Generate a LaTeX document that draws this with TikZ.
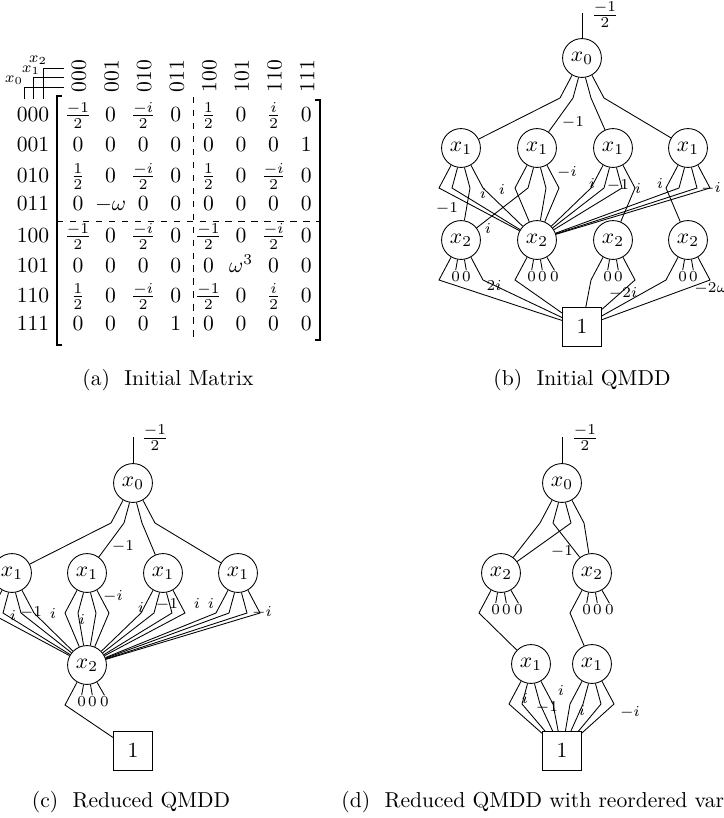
\documentclass[tikz,border=0pt]{standalone}
\usetikzlibrary{calc}
\newcommand\eA[2]{\draw (#1.-120) -- ($(#1)+(-22,40)$) -- (#2);}
\newcommand\eB[2]{\draw (#1.-100) -- ($(#1)+(-9,40)$) -- (#2);}
\newcommand\eC[2]{\draw (#1.-80) -- ($(#1)+(9,40)$) -- (#2);}
\newcommand\eD[2]{\draw (#1.-60) -- ($(#1)+(22,40)$) -- (#2);}
\newcommand\zB[1]{\draw (#1.-100) -- ++(-100:5pt) coordinate (#1zb) node[zl] (#1zbl) {$0$};}
\newcommand\zC[1]{\draw (#1.-80) -- ++(-80:5pt) coordinate (#1zc) node[zl] (#1zcl) {$0$};}
\newcommand\zD[1]{\draw (#1.-60) -- ++(-60:7pt) coordinate (#1zd) node[zl] (#1zdl) {$0$};}
\newcommand\mrow[4]{%
  \node[me] (rl#1) at (33,#2) {#3};
  \foreach \v [count=\c] in {#4} {\node[me] (m#1-\c) at ({78+32.6*(\c-1)},#2) {$\v$};}}
\begin{document}
\begin{tikzpicture}[x=0.4630pt,y=-0.4630pt,
  qn/.style={circle,draw,minimum size=18pt,inner sep=0pt},
  tn/.style={rectangle,draw,minimum size=18pt,inner sep=0pt},
  el/.style={font=\scriptsize,inner sep=0pt},
  wl/.style={inner sep=0pt},
  zl/.style={font=\scriptsize,inner sep=0.5pt,anchor=north},
  me/.style={anchor=base,inner sep=0pt},
  captxt/.style={anchor=base,inner sep=0pt},
  brk/.style={line width=0.5pt}]
\useasboundingbox (0,0) rectangle (723,818);

% ---------------- (a) matrix ----------------
\draw (43,99) -- (43,68) -- (64,68);
\draw (33,99) -- (33,77) -- (64,77);
\draw (24,99) -- (24,87) -- (64,87);
\node[font=\scriptsize,inner sep=0pt] (vx2) at (38,60) {$x_2$};
\node[font=\scriptsize,inner sep=0pt] (vx1) at (31,70) {$x_1$};
\node[font=\scriptsize,inner sep=0pt] (vx0) at (14,80) {$x_0$};
\foreach \h [count=\c] in {000,001,010,011,100,101,110,111}
  {\node[rotate=90,inner sep=0pt] (h\c) at ({79+32.6*(\c-1)},76) {\h};}
\mrow{1}{121}{000}{{\frac{-1}{2}},0,{\frac{-i}{2}},0,{\frac{1}{2}},0,{\frac{i}{2}},0}
\mrow{2}{151}{001}{0,0,0,0,0,0,0,1}
\mrow{3}{182}{010}{{\frac{1}{2}},0,{\frac{-i}{2}},0,{\frac{1}{2}},0,{\frac{-i}{2}},0}
\mrow{4}{210}{011}{0,-\omega,0,0,0,0,0,0}
\mrow{5}{242}{100}{{\frac{-1}{2}},0,{\frac{-i}{2}},0,{\frac{-1}{2}},0,{\frac{-i}{2}},0}
\mrow{6}{272}{101}{0,0,0,0,0,\omega^3,0,0}
\mrow{7}{302}{110}{{\frac{1}{2}},0,{\frac{-i}{2}},0,{\frac{-1}{2}},0,{\frac{i}{2}},0}
\mrow{8}{330}{111}{0,0,0,1,0,0,0,0}
\draw[brk] (62,96) -- (57,96) -- (57,345) -- (62,345);
\draw[brk] (315,100) -- (320,100) -- (320,340) -- (315,340);
\draw[dashed] (193,97) -- (193,342);
\draw[dashed] (57,221) -- (320,221);
\node[captxt] (capa) at (168,385) {(a)\ \ Initial Matrix};

% ---------------- (b) initial QMDD ----------------
\node[qn] (b0) at (582,58) {$x_0$};
\node[qn] (b11) at (461,148) {$x_1$};
\node[qn] (b12) at (537,148) {$x_1$};
\node[qn] (b13) at (613,148) {$x_1$};
\node[qn] (b14) at (688,148) {$x_1$};
\node[qn] (b21) at (461,240) {$x_2$};
\node[qn] (b22) at (537,240) {$x_2$};
\node[qn] (b23) at (613,240) {$x_2$};
\node[qn] (b24) at (688,240) {$x_2$};
\node[tn] (bt) at (582,327) {$1$};
\coordinate (btop) at (582,13);
\draw (b0) -- (btop);
\node[wl] (bw) at (605,15) {$\frac{-1}{2}$};
\eA{b0}{b11}\eB{b0}{b12}\eC{b0}{b13}\eD{b0}{b14}
\eA{b11}{b22}\eB{b11}{b22}\eC{b11}{b21}\eD{b11}{b22}
\eA{b12}{b22}\eB{b12}{b21}\eC{b12}{b22}\eD{b12}{b22}
\eA{b13}{b22}\eB{b13}{b22}\eC{b13}{b22}\eD{b13}{b23}
\eA{b14}{b24}\eB{b14}{b22}\eC{b14}{b22}\eD{b14}{b22}
\eA{b21}{bt}\zB{b21}\zC{b21}\eD{b21}{bt}
\eA{b22}{bt}\zB{b22}\zC{b22}\zD{b22}
\eA{b23}{bt}\zB{b23}\zC{b23}\eD{b23}{bt}
\eA{b24}{bt}\zB{b24}\zC{b24}\eD{b24}{bt}
\node[el] (bl1) at (573,123) {$-1$};
\node[el] (bl2) at (483,193) {$i$};
\node[el] (bl3) at (447,209) {$-1$};
\node[el] (bl4) at (502,189) {$i$};
\node[el] (bl5) at (488,228) {$i$};
\node[el] (bl6) at (567,172) {$-i$};
\node[el] (bl7) at (592,183) {$i$};
\node[el] (bl8) at (618,186) {$-1$};
\node[el] (bl9) at (638,188) {$i$};
\node[el] (bl10) at (660,183) {$i$};
\node[el] (bl11) at (711,188) {$-i$};
\node[el] (bl12) at (494,285) {$2i$};
\node[el] (bl13) at (623,293) {$-2i$};
\node[el,anchor=west] (bl14) at (694,289) {$-2\omega$};
\node[captxt] (capb) at (582,385) {(b)\ \ Initial QMDD};

% ---------------- (c) reduced QMDD ----------------
\node[qn] (c0) at (133,483) {$x_0$};
\node[qn] (c11) at (12,573) {$x_1$};
\node[qn] (c12) at (87,573) {$x_1$};
\node[qn] (c13) at (163,573) {$x_1$};
\node[qn] (c14) at (238,573) {$x_1$};
\node[qn] (c2) at (87,665) {$x_2$};
\node[tn] (ct) at (133,751) {$1$};
\coordinate (ctop) at (133,437);
\draw (c0) -- (ctop);
\node[wl] (cw) at (155,438) {$\frac{-1}{2}$};
\eA{c0}{c11}\eB{c0}{c12}\eC{c0}{c13}\eD{c0}{c14}
\eA{c11}{c2}\eB{c11}{c2}\eC{c11}{c2}\eD{c11}{c2}
\eA{c12}{c2}\eB{c12}{c2}\eC{c12}{c2}\eD{c12}{c2}
\eA{c13}{c2}\eB{c13}{c2}\eC{c13}{c2}\eD{c13}{c2}
\eA{c14}{c2}\eB{c14}{c2}\eC{c14}{c2}\eD{c14}{c2}
\eA{c2}{ct}\zB{c2}\zC{c2}\zD{c2}
\node[el] (cl1) at (123,547) {$-1$};
\node[el] (cl2) at (13,615) {$i$};
\node[el] (cl3) at (31,613) {$-1$};
\node[el] (cl4) at (53,613) {$i$};
\node[el] (cl5) at (82,619) {$i$};
\node[el] (cl6) at (113,596) {$-i$};
\node[el] (cl7) at (141,607) {$i$};
\node[el] (cl8) at (167,605) {$-1$};
\node[el] (cl9) at (197,603) {$i$};
\node[el] (cl10) at (211,603) {$i$};
\node[el] (cl11) at (262,612) {$-i$};
\node[captxt] (capc) at (131,807) {(c)\ \ Reduced QMDD};

% ---------------- (d) reordered ----------------
\node[qn] (d0) at (562,483) {$x_0$};
\node[qn] (d21) at (501,573) {$x_2$};
\node[qn] (d22) at (592,573) {$x_2$};
\node[qn] (d11) at (531,664) {$x_1$};
\node[qn] (d12) at (592,664) {$x_1$};
\node[tn] (dt) at (562,751) {$1$};
\coordinate (dtop) at (562,437);
\draw (d0) -- (dtop);
\node[wl] (dw) at (585,438) {$\frac{-1}{2}$};
\eA{d0}{d21}\eB{d0}{d22}\eC{d0}{d21}\eD{d0}{d22}
\eA{d21}{d11}\zB{d21}\zC{d21}\zD{d21}
\eA{d22}{d12}\zB{d22}\zC{d22}\zD{d22}
\eA{d11}{dt}\eB{d11}{dt}\eC{d11}{dt}\eD{d11}{dt}
\eA{d12}{dt}\eB{d12}{dt}\eC{d12}{dt}\eD{d12}{dt}
\node[el] (dl1) at (562,552) {$-1$};
\node[el] (dl2) at (525,698) {$i$};
\node[el] (dl3) at (547,708) {$-1$};
\node[el] (dl4) at (561,690) {$i$};
\node[el] (dl5) at (582,710) {$i$};
\node[el] (dl6) at (630,712) {$-i$};
\node[captxt,anchor=base west] (capd) at (341,807) {(d)\ \ Reduced QMDD with reordered var};
\end{tikzpicture}
\end{document}
